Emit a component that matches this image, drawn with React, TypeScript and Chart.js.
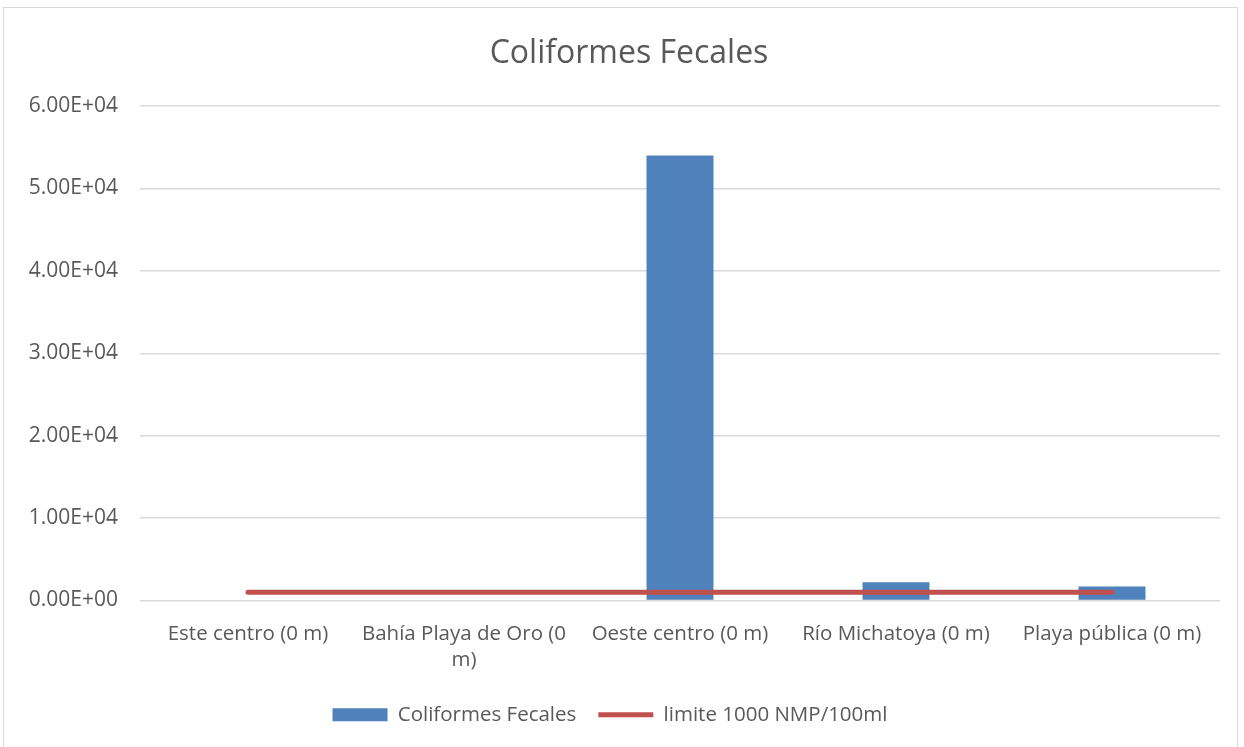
import React, { useEffect, useRef } from "react";
import { Chart, registerables } from "chart.js";

Chart.register(...registerables);

const categories: (string | string[])[] = [
  "Este centro (0 m)",
  ["Bahía Playa de Oro (0", "m)"],
  "Oeste centro (0 m)",
  "Río Michatoya (0 m)",
  "Playa pública (0 m)",
];
const coliformes = [0, 0, 54000, 2200, 1700];
const limite = [1000, 1000, 1000, 1000, 1000];
const yMin = 0;
const yMax = 60000;
const yStep = 10000;

const FONT = "'Open Sans', 'DejaVu Sans', sans-serif";
const TEXT = "#595959";

function fmtExp(v: number): string {
  if (v === 0) return "0.00E+00";
  const e = Math.floor(Math.log10(Math.abs(v)));
  const m = v / Math.pow(10, e);
  const sign = e >= 0 ? "+" : "-";
  return m.toFixed(2) + "E" + sign + String(Math.abs(e)).padStart(2, "0");
}

const titlePlugin = {
  id: "customTitle",
  afterDraw(chart: any) {
    const ctx = chart.ctx;
    ctx.save();
    ctx.fillStyle = TEXT;
    ctx.font = `32px ${FONT}`;
    ctx.textAlign = "center";
    ctx.textBaseline = "middle";
    ctx.fillText("Coliformes Fecales", 629, 54);
    ctx.restore();
  },
};

export default function App() {
  const ref = useRef<HTMLCanvasElement>(null);
  useEffect(() => {
    if (!ref.current) return;
    const chart = new Chart(ref.current, {
      data: {
        labels: categories,
        datasets: [
          {
            type: "line",
            label: "limite 1000 NMP/100ml",
            data: limite,
            borderColor: "#C0504D",
            backgroundColor: "#C0504D",
            borderWidth: 5,
            borderCapStyle: "round",
            pointRadius: 0,
            pointStyle: "line",
            order: 0,
          } as any,
          {
            type: "bar",
            label: "Coliformes Fecales",
            data: coliformes,
            backgroundColor: "#4F81BD",
            borderWidth: 0,
            categoryPercentage: 1,
            barPercentage: 0.31,
            pointStyle: "rect",
            order: 1,
          } as any,
        ],
      },
      options: {
        animation: false,
        responsive: false,
        maintainAspectRatio: false,
        layout: { padding: { top: 106, right: 24, left: 0, bottom: 12 } },
        plugins: {
          title: { display: false },
          tooltip: { enabled: false },
          legend: {
            position: "bottom",
            reverse: true,
            labels: {
              usePointStyle: true,
              pointStyleWidth: 55,
              boxHeight: 13,
              color: TEXT,
              padding: 22,
              font: { family: FONT, size: 20.5 },
            },
          },
        },
        scales: {
          x: {
            grid: { display: false, drawTicks: false },
            border: { display: false },
            ticks: {
              color: TEXT,
              font: { family: FONT, size: 20.5, lineHeight: 1.3 },
              padding: 20,
              maxRotation: 0,
              autoSkip: false,
            },
            afterFit(axis: any) {
              axis.height = 82;
            },
          },
          y: {
            min: yMin,
            max: yMax,
            grid: { color: "#D9D9D9", lineWidth: 1.5, drawTicks: false },
            border: { display: false },
            ticks: {
              stepSize: yStep,
              color: TEXT,
              padding: 22,
              font: { family: FONT, size: 21 },
              callback: (v: any) => fmtExp(Number(v)),
            },
            afterFit(axis: any) {
              axis.width = 140;
            },
          },
        },
      } as any,
      plugins: [titlePlugin],
    });
    return () => chart.destroy();
  }, []);

  return (
    <div style={{ position: "absolute", left: 0, top: 0, width: 1244, height: 747, background: "#fff", overflow: "hidden" }}>
      <div
        style={{
          position: "absolute",
          left: 3,
          top: 7,
          width: 1235,
          height: 760,
          border: "1.5px solid #D9D9D9",
          boxSizing: "border-box",
        }}
      />
      <canvas ref={ref} width={1244} height={747} style={{ position: "absolute", left: 0, top: 0 }} />
    </div>
  );
}
